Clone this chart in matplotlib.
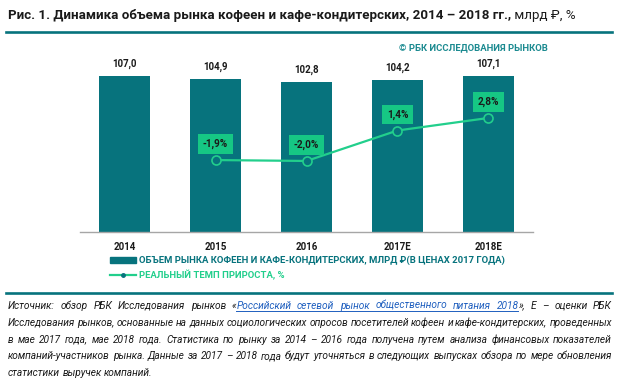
import matplotlib
matplotlib.use("Agg")
import matplotlib.pyplot as plt
from matplotlib.patches import Patch
from matplotlib.lines import Line2D

years = ["2014", "2015", "2016", "2017E", "2018E"]
market = [107.0, 104.9, 102.8, 104.2, 107.1]
growth_years = ["2015", "2016", "2017E", "2018E"]
growth = [-1.9, -2.0, 1.4, 2.8]

title_bold = "Рис. 1. Динамика объема рынка кофеен и кафе-кондитерских, 2014 – 2018 гг.,"
title_rest = " млрд ₽, %"
copyright_text = "© РБК ИССЛЕДОВАНИЯ РЫНКОВ"
legend_bars = "ОБЪЕМ РЫНКА КОФЕЕН И КАФЕ-КОНДИТЕРСКИХ, МЛРД ₽(В ЦЕНАХ 2017 ГОДА)"
legend_line = "РЕАЛЬНЫЙ ТЕМП ПРИРОСТА, %"
# text in [] is the blue link
footer = [
    "Источник: обзор РБК Исследования рынков «[Российский сетевой рынок общественного питания 2018]», Е – оценки РБК",
    "Исследования рынков, основанные на данных социологических опросов посетителей кофеен и кафе-кондитерских, проведенных",
    "в мае 2017 года, мае 2018 года. Статистика по рынку за 2014 – 2016 года получена путем анализа финансовых показателей",
    "компаний-участников рынка. Данные за 2017 – 2018 года будут уточняться в следующих выпусках обзора по мере обновления",
    "статистики выручек компаний.",
]

TEAL = "#07737d"
GREEN = "#22cf8c"
BOX = "#16c784"
LINK = "#1f5fbf"
DARK = "#1a1a1a"

plt.rcParams['font.family'] = ['Roboto', 'DejaVu Sans']

W, H = 637, 391
fig = plt.figure(figsize=(W / 100, H / 100), dpi=100)


def px(x, y):
    return x / W, 1 - y / H


ax = fig.add_axes([80 / W, 1 - 232 / H, 453 / W, 172 / H])
pos = list(range(len(years)))
ax.bar(pos, market, width=0.56, color=TEAL, zorder=2)
ax.set_xlim(-0.49, 4.49)
ax.set_ylim(0, 118)
ax.set_xticks(pos)
ax.set_xticklabels(years, fontsize=7, fontweight="bold", color=DARK)
ax.tick_params(axis="x", length=0, pad=7)
ax.set_yticks([])
for s in ["top", "left", "right"]:
    ax.spines[s].set_visible(False)
ax.spines["bottom"].set_color("#a6a6a6")
ax.spines["bottom"].set_linewidth(1.0)
for xi, v in zip(pos, market):
    ax.annotate(f"{v:.1f}".replace(".", ","), (xi, v), xytext=(0, 9),
                textcoords="offset points", ha="center", va="center",
                fontsize=7, fontweight="bold", color=DARK)

ax2 = ax.twinx()
ax2.set_ylim(-9.93, 9.27)
ax2.set_yticks([])
for s in ax2.spines.values():
    s.set_visible(False)
gx = [years.index(g) for g in growth_years]
ax2.plot(gx, growth, color=GREEN, lw=1.6, marker="o", ms=6.5,
         mfc=TEAL, mec=GREEN, mew=1.2, zorder=3)
for xi, v in zip(gx, growth):
    ax2.annotate(f"{v:.1f}%".replace(".", ","), (xi, v), xytext=(0, 11.5),
                 textcoords="offset points", ha="center", va="center",
                 fontsize=7.2, fontweight="bold", color=DARK,
                 bbox=dict(boxstyle="square,pad=0.45", fc=BOX, ec="none"))

# header
fig.add_artist(Line2D([6 / W, 612 / W], [1 - 32 / H] * 2, color=TEAL, lw=1.9))
r = fig.canvas.get_renderer()
t = fig.text(*px(8, 16), title_bold, fontsize=9.6, fontweight="bold",
             color=DARK, va="center", ha="left")
tw = t.get_window_extent(renderer=r).width
fig.text(*px(8 + tw, 16), title_rest, fontsize=9.6, color=DARK,
         va="center", ha="left")
fig.text(*px(548, 48), copyright_text, fontsize=6.8, fontweight="bold",
         color="#1b8a90", va="center", ha="right")

# legend
handles = [Patch(color=TEAL),
           Line2D([], [], color=GREEN, lw=1.6, marker="o", ms=2.5,
                  mfc=TEAL, mec=TEAL)]
leg = fig.legend(handles, [legend_bars, legend_line], loc="upper left",
                 bbox_to_anchor=px(110, 256), frameon=False,
                 prop={"size": 6.8, "weight": "bold"}, handlelength=2.7,
                 handleheight=0.6, handletextpad=0.35, labelspacing=0.45,
                 borderpad=0, borderaxespad=0)
for txt, c in zip(leg.get_texts(), [TEAL, GREEN]):
    txt.set_color(c)

# footer
fig.add_artist(Line2D([6 / W, 612 / W], [1 - 293 / H] * 2, color=TEAL, lw=1.9))
fkw = dict(fontsize=7.3, fontstyle="italic", va="baseline", ha="left")


def text_width(s):
    tt = fig.text(0, 0, s, **fkw)
    w = tt.get_window_extent(renderer=r).width
    tt.remove()
    return w


space_w = text_width("a a") - text_width("aa")
left, right = 8, 612
link = False
for i, line in enumerate(footer):
    y = 309 + i * 16.8
    words = []
    for word in line.split(" "):
        pieces, cur = [], ""
        for ch in word:
            if ch in "[]":
                if cur:
                    pieces.append((cur, link))
                cur = ""
                link = ch == "["
            else:
                cur += ch
        if cur:
            pieces.append((cur, link))
        words.append([(p, lk, text_width(p)) for p, lk in pieces])
    total = sum(w for wd in words for _, _, w in wd)
    if i < len(footer) - 1:
        gap = (right - left - total) / (len(words) - 1)
    else:
        gap = space_w
    xc = left
    ux = []
    for wd in words:
        for p, lk, w in wd:
            fig.text(*px(xc, y), p, color=LINK if lk else DARK, **fkw)
            if lk:
                ux += [xc, xc + w]
            xc += w
        xc += gap
    if ux:
        fig.add_artist(Line2D([min(ux) / W, max(ux) / W], [1 - (y + 2) / H] * 2,
                              color=LINK, lw=0.7))

fig.savefig("out.png", dpi=100)
